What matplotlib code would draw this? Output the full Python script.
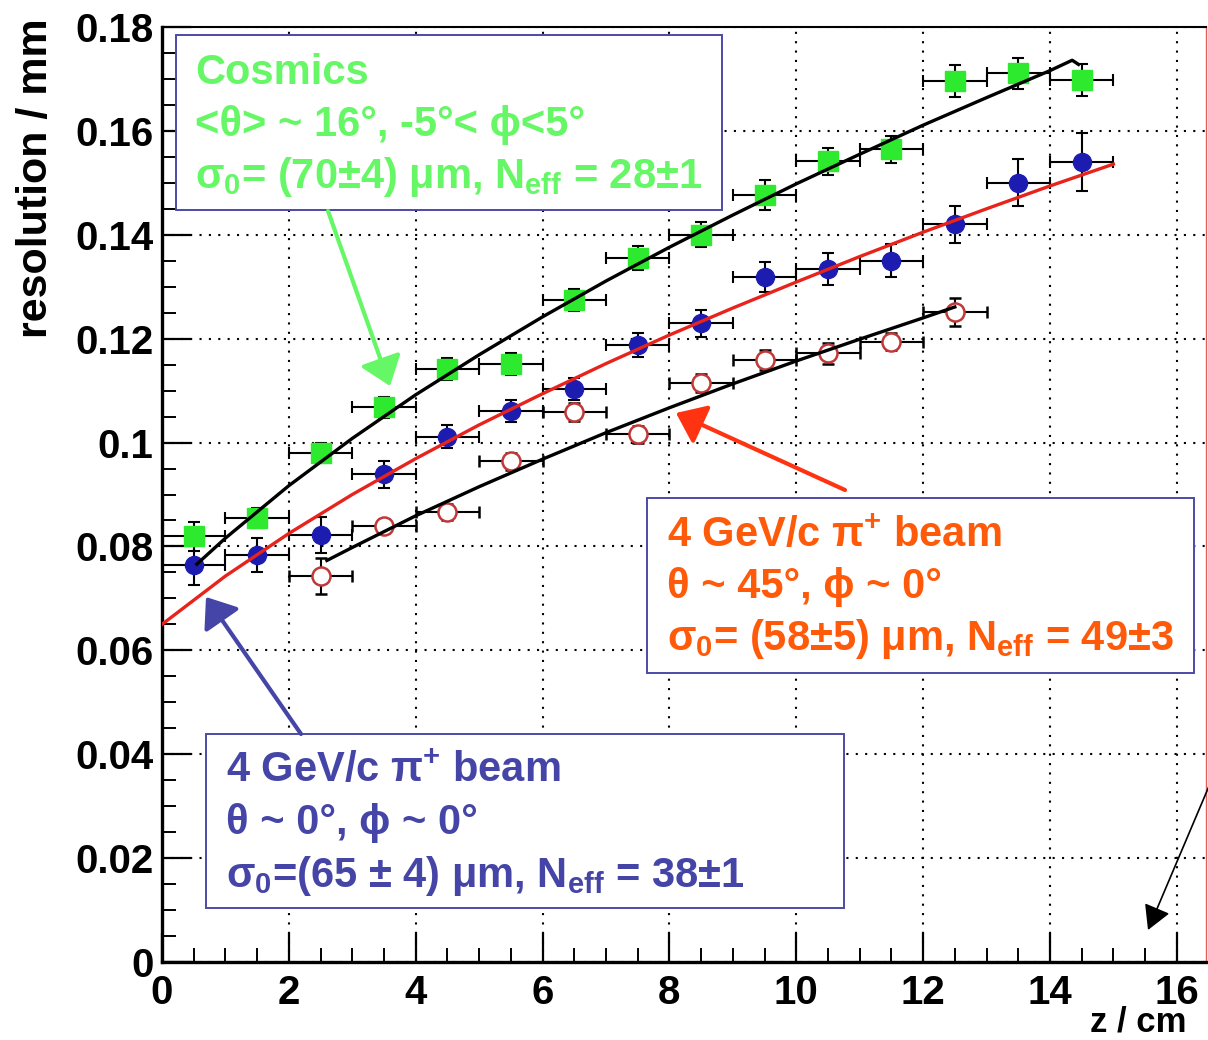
import numpy as np
import matplotlib
matplotlib.use('Agg')
import matplotlib.pyplot as plt
from matplotlib.patches import Rectangle, FancyArrowPatch
from matplotlib.ticker import MultipleLocator, FuncFormatter

plt.rcParams['font.family'] = ['Liberation Sans', 'DejaVu Sans']
plt.rcParams['font.weight'] = 'bold'
plt.rcParams['mathtext.fontset'] = 'custom'
plt.rcParams['mathtext.rm'] = 'Liberation Sans:bold'
plt.rcParams['mathtext.it'] = 'Liberation Sans:bold'
plt.rcParams['mathtext.bf'] = 'Liberation Sans:bold'

# bin centres and half widths
z_bins = np.arange(0.5, 15.0, 1.0)
z_bins45 = np.arange(2.5, 13.0, 1.0)
z_halfwidth = 0.5

# cosmics (green squares)
res_cosmics = [0.0820, 0.0855, 0.0980, 0.1068, 0.1142, 0.1151, 0.1274, 0.1355,
               0.1400, 0.1477, 0.1542, 0.1565, 0.1696, 0.1711, 0.1698]
err_cosmics = [0.0028, 0.0019, 0.0020, 0.0020, 0.0021, 0.0021, 0.0021, 0.0023,
               0.0024, 0.0029, 0.0026, 0.0026, 0.0030, 0.0030, 0.0030]

# 4 GeV/c pi+ beam, theta ~ 0 (blue dots)
res_beam0 = [0.0764, 0.0783, 0.0822, 0.0939, 0.1011, 0.1061, 0.1103, 0.1188,
             0.1230, 0.1319, 0.1334, 0.1350, 0.1420, 0.1500, 0.1540]
err_beam0 = [0.0039, 0.0033, 0.0034, 0.0026, 0.0022, 0.0021, 0.0021, 0.0023,
             0.0026, 0.0029, 0.0030, 0.0032, 0.0035, 0.0045, 0.0055]

# 4 GeV/c pi+ beam, theta ~ 45 (open red circles)
res_beam45 = [0.0743, 0.0839, 0.0866, 0.0964, 0.1059, 0.1016, 0.1115, 0.1159,
              0.1172, 0.1194, 0.1251]
err_beam45 = [0.0035, 0.0014, 0.0015, 0.0016, 0.0018, 0.0016, 0.0017, 0.0019,
              0.0020, 0.0016, 0.0027]

# fit curves
fit_cos_z = [0.55, 1, 2, 3, 4, 5, 6, 7, 8, 9, 10, 11, 12, 13, 14, 14.35, 14.45]
fit_cos = [0.0766, 0.0816, 0.0917, 0.1008, 0.1092, 0.1169, 0.1242, 0.1311, 0.1376,
           0.1438, 0.1498, 0.1555, 0.1611, 0.1664, 0.1716, 0.1736, 0.1728]
fit_b0_z = [0, 1, 2, 3, 4, 5, 6, 7, 8, 9, 10, 11, 12, 13, 14, 15]
fit_b0 = [0.0650, 0.0743, 0.0825, 0.0900, 0.0969, 0.1034, 0.1094, 0.1152, 0.1207,
          0.1259, 0.1309, 0.1358, 0.1405, 0.1450, 0.1494, 0.1536]
fit_b45_z = [2.6, 3, 4, 5, 6, 7, 8, 9, 10, 11, 12, 12.5]
fit_b45 = [0.0773, 0.0798, 0.0859, 0.0915, 0.0968, 0.1019, 0.1067, 0.1113, 0.1157,
           0.1199, 0.1240, 0.1261]

W, H = 1208, 1040


def fx(px):
    return px / W


def fy(py):
    return 1 - py / H


fig = plt.figure(figsize=(W / 100, H / 100), dpi=100)
ax = fig.add_axes([fx(162), 78 / H, (1206 - 162) / W, (962 - 27) / H])

ax.set_xlim(0, 16.46)
ax.set_ylim(0, 0.18)
ax.xaxis.set_major_locator(MultipleLocator(2))
ax.xaxis.set_minor_locator(MultipleLocator(0.5))
ax.yaxis.set_major_locator(MultipleLocator(0.02))
ax.yaxis.set_minor_locator(MultipleLocator(0.005))
ax.yaxis.set_major_formatter(FuncFormatter(lambda v, p: f'{v:g}'))
ax.xaxis.set_major_formatter(FuncFormatter(lambda v, p: f'{v:g}'))
ax.tick_params(which='major', direction='in', length=21, width=1.6, labelsize=29)
ax.tick_params(which='minor', direction='in', length=10, width=1.4)
ax.tick_params(axis='x', which='major', pad=9)
ax.tick_params(axis='y', which='major', pad=6)
ax.grid(True, which='major', color='black', linestyle=(0, (1, 3.5)), linewidth=1.5)

for side in ['left', 'bottom']:
    ax.spines[side].set_linewidth(2.4)
ax.spines['top'].set_linewidth(1.5)
ax.spines['right'].set_color('#e06060')
ax.spines['right'].set_linewidth(1.0)

eb = dict(xerr=z_halfwidth, ecolor='black', elinewidth=1.5, capsize=4, capthick=1.5, zorder=3)
ax.errorbar(z_bins, res_cosmics, yerr=err_cosmics, fmt='s', ms=14,
            mfc='#2eea2e', mec='#2eea2e', **eb)
ax.errorbar(z_bins, res_beam0, yerr=err_beam0, fmt='o', ms=13,
            mfc='#1c1cb0', mec='#1c1cb0', **eb)
ax.errorbar(z_bins45, res_beam45, yerr=err_beam45, fmt='o', ms=13,
            mfc='white', mec='#c03838', mew=1.8, **eb)

ax.plot(fit_cos_z, fit_cos, color='black', lw=2.4, zorder=5)
ax.plot(fit_b0_z, fit_b0, color='#e8231c', lw=2.4, zorder=5)
ax.plot(fit_b45_z, fit_b45, color='black', lw=2.4, zorder=5)

# axis titles
fig.text(fx(36), fy(18), 'resolution / mm', rotation=90, ha='center', va='top', fontsize=31)
fig.text(fx(1090), fy(1032), 'z / cm', ha='left', va='baseline', fontsize=25)

# text boxes
box_edge = '#4b4ba8'
boxes = [
    ((176, 35, 722, 210), 195, [84, 136, 188], '#66f766',
     ['Cosmics',
      '<θ> ~ 16°, -5°< ϕ<5°',
      'σ${}_{0}$= (70±4) μm, N${}_{eff}$ = 28±1']),
    ((647, 498, 1194, 673), 667, [547, 598, 650], '#ff5a0a',
     ['4 GeV/c π${}^{+}$ beam',
      'θ ~ 45°, ϕ ~ 0°',
      'σ${}_{0}$= (58±5) μm, N${}_{eff}$ = 49±3']),
    ((206, 734, 844, 908), 226, [782, 834, 887], '#4545a8',
     ['4 GeV/c π${}^{+}$ beam',
      'θ ~ 0°, ϕ ~ 0°',
      'σ${}_{0}$=(65 ± 4) μm, N${}_{eff}$ = 38±1']),
]
for (x0, y0, x1, y1), tx, baselines, col, lines in boxes:
    fig.add_artist(Rectangle((fx(x0), fy(y1)), (x1 - x0) / W, (y1 - y0) / H,
                             transform=fig.transFigure, facecolor='white',
                             edgecolor=box_edge, lw=1.4, zorder=10))
    for by, line in zip(baselines, lines):
        fig.text(fx(tx), fy(by), line, color=col, fontsize=30, ha='left',
                 va='baseline', zorder=11)

# arrows
arrows = [
    ((328, 211), (390, 386), '#66f766', 3.0, 0.85, 0.65),
    ((845, 490), (676, 413), '#ff3311', 3.0, 0.85, 0.65),
    ((301, 734), (206, 597), '#4545a8', 3.0, 0.85, 0.65),
    ((1215, 772), (1148, 930), 'black', 1.2, 0.75, 0.42),
]
for (tx0, ty0), (hx, hy), col, lw, hl, hw in arrows:
    fig.add_artist(FancyArrowPatch((fx(tx0), fy(ty0)), (fx(hx), fy(hy)),
                                   transform=fig.transFigure,
                                   arrowstyle=f'-|>,head_length={hl},head_width={hw}',
                                   mutation_scale=20, color=col, lw=lw,
                                   shrinkA=0, shrinkB=0, zorder=12))

fig.savefig('out.png', dpi=100)
